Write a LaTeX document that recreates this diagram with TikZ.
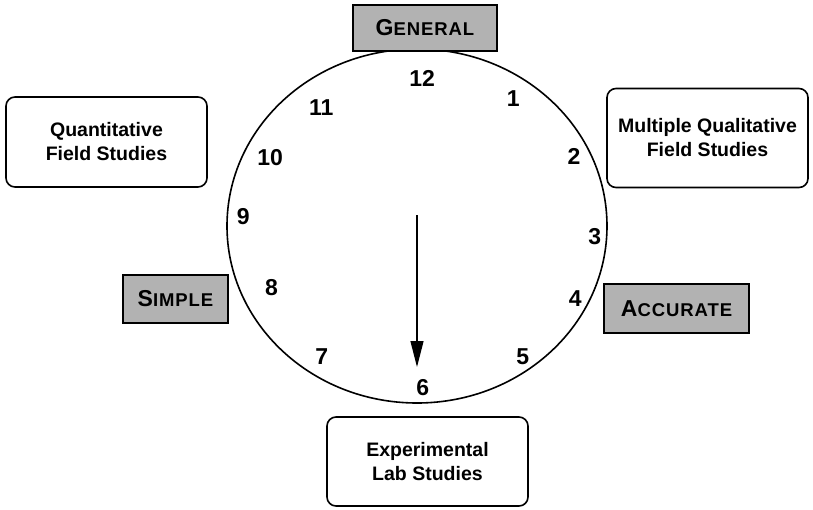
\documentclass[tikz,border=0pt]{standalone}
\usepackage{fontspec}
\setmainfont{Liberation Sans}
\newfontfamily\capfont[LetterSpace=5]{Liberation Sans}
\usetikzlibrary{arrows.meta}

\newcommand{\capword}[2]{{\capfont\bfseries\fontsize{23}{25}\selectfont #1\fontsize{18.5}{20}\selectfont #2}}

\begin{document}
\begin{tikzpicture}[x=1pt, y=1pt,
      hour/.style ={inner sep=0pt, font=\bfseries\fontsize{23}{25}\selectfont},
      study/.style ={draw, line width=1.6pt, rounded corners=9pt, minimum width=201pt,
                     align=center, font=\bfseries\fontsize{19.5}{24}\selectfont},
      quality/.style ={draw, line width=1.6pt, fill=black!30, inner sep=0pt}]
   \useasboundingbox (-417,-283) rectangle (396,226);

   \draw[line width=1.6pt] (0,0) ellipse [x radius=190, y radius=177];

   \node[hour] (h12) at (88:148)  {12};
   \node[hour] (h1)  at (53:160)  {1};
   \node[hour] (h2)  at (24:172)  {2};
   \node[hour] (h3)  at (-3.5:178)  {3};
   \node[hour] (h4)  at (-24.5:174)  {4};
   \node[hour] (h5)  at (-51:168)  {5};
   \node[hour] (h6)  at (-88:162)  {6};
   \node[hour] (h7)  at (-126:162)  {7};
   \node[hour] (h8)  at (-157:158)  {8};
   \node[hour] (h9)  at (177:174)  {9};
   \node[hour] (h10) at (155:162)  {10};
   \node[hour] (h11) at (129:152)  {11};

   \node[quality, minimum width=144pt, minimum height=46pt] (general)  at (8,198)  {\capword{G}{ENERAL}};
   \node[quality, minimum width=105pt, minimum height=48pt] (simple)  at (-241.5,-73)  {\capword{S}{IMPLE}};
   \node[quality, minimum width=145pt, minimum height=49pt] (accurate)  at (259.5,-82.5)  {\capword{A}{CCURATE}};

   \node[study, minimum height=90pt] (quantitative)  at (-310.5,84)  {Quantitative\\Field Studies};
   \node[study, minimum height=99pt] (qualitative)  at (290.5,88)  {Multiple Qualitative\\Field Studies};
   \node[study, minimum height=89pt] (experimental)  at (10.5,-235.5)  {Experimental\\Lab Studies};

   \coordinate (hub) at (0,11);
   \coordinate (hand) at (0,-141);
   \draw[line width=1.3pt, -{Triangle[width=13pt, length=26pt]}] (hub) to (hand);
 \end{tikzpicture}
\end{document}
